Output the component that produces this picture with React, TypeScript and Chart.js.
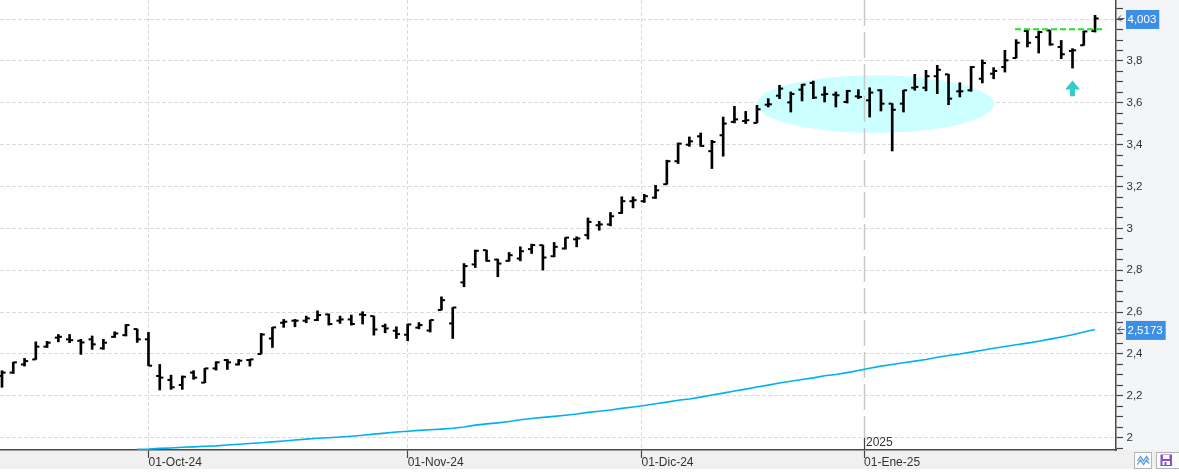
import { useEffect, useRef } from 'react';
import { Chart, registerables } from 'chart.js';
Chart.register(...registerables);

const FONT = 'Liberation Sans';

// OHLC per trading session (index 0 = first visible bar)
const OPEN = [
  2.295, 2.311, 2.350, 2.374, 2.435, 2.478, 2.470, 2.463, 2.470, 2.427,
  2.482, 2.490, 2.519, 2.470, 2.295, 2.276, 2.252, 2.311, 2.263, 2.331,
  2.371, 2.350, 2.371, 2.400, 2.474, 2.549, 2.559, 2.559, 2.562, 2.589,
  2.559, 2.565, 2.589, 2.581, 2.533, 2.511, 2.492, 2.526, 2.512, 2.610,
  2.546, 2.742, 2.828, 2.896, 2.851, 2.845, 2.856, 2.901, 2.920, 2.867,
  2.904, 2.948, 2.968, 3.015, 3.019, 3.074, 3.130, 3.130, 3.147, 3.211,
  3.321, 3.400, 3.440, 3.369, 3.445, 3.509, 3.513, 3.504, 3.591, 3.634,
  3.602, 3.663, 3.695, 3.639, 3.639, 3.604, 3.631, 3.612, 3.660, 3.596,
  3.596, 3.672, 3.672, 3.727, 3.736, 3.655, 3.660, 3.715, 3.739, 3.771,
  3.814, 3.943, 3.914, 3.946, 3.867, 3.848, 3.875, 3.943,
];
const HIGH = [
  2.320, 2.360, 2.379, 2.458, 2.460, 2.493, 2.493, 2.470, 2.486, 2.470,
  2.506, 2.541, 2.519, 2.503, 2.350, 2.299, 2.295, 2.320, 2.331, 2.363,
  2.374, 2.374, 2.374, 2.498, 2.527, 2.565, 2.565, 2.581, 2.606, 2.591,
  2.581, 2.586, 2.602, 2.581, 2.543, 2.530, 2.543, 2.550, 2.562, 2.673,
  2.622, 2.832, 2.896, 2.896, 2.853, 2.885, 2.912, 2.925, 2.920, 2.933,
  2.956, 2.960, 3.050, 3.034, 3.076, 3.151, 3.151, 3.163, 3.206, 3.326,
  3.408, 3.437, 3.456, 3.421, 3.532, 3.583, 3.559, 3.588, 3.620, 3.684,
  3.652, 3.688, 3.704, 3.677, 3.652, 3.660, 3.663, 3.672, 3.663, 3.596,
  3.660, 3.736, 3.755, 3.779, 3.736, 3.696, 3.774, 3.805, 3.768, 3.851,
  3.902, 3.946, 3.943, 3.946, 3.898, 3.859, 3.943, 4.018,
];
const LOW = [
  2.241, 2.307, 2.342, 2.374, 2.431, 2.458, 2.454, 2.398, 2.422, 2.422,
  2.479, 2.486, 2.455, 2.344, 2.228, 2.231, 2.231, 2.279, 2.263, 2.323,
  2.326, 2.347, 2.342, 2.400, 2.431, 2.527, 2.530, 2.549, 2.559, 2.538,
  2.546, 2.538, 2.543, 2.490, 2.501, 2.474, 2.463, 2.520, 2.505, 2.610,
  2.474, 2.721, 2.813, 2.843, 2.769, 2.843, 2.845, 2.880, 2.801, 2.864,
  2.901, 2.912, 2.949, 2.991, 3.012, 3.071, 3.098, 3.124, 3.143, 3.211,
  3.310, 3.392, 3.392, 3.286, 3.345, 3.504, 3.501, 3.504, 3.580, 3.620,
  3.556, 3.609, 3.620, 3.604, 3.580, 3.599, 3.620, 3.532, 3.561, 3.370,
  3.556, 3.660, 3.657, 3.644, 3.591, 3.628, 3.655, 3.695, 3.715, 3.747,
  3.814, 3.867, 3.838, 3.875, 3.811, 3.766, 3.875, 3.938,
];
const CLOSE = [
  2.311, 2.360, 2.366, 2.435, 2.454, 2.482, 2.466, 2.455, 2.446, 2.454,
  2.498, 2.538, 2.470, 2.344, 2.287, 2.241, 2.291, 2.287, 2.331, 2.360,
  2.360, 2.368, 2.374, 2.493, 2.527, 2.554, 2.559, 2.570, 2.586, 2.543,
  2.565, 2.543, 2.586, 2.517, 2.522, 2.495, 2.541, 2.538, 2.562, 2.657,
  2.622, 2.820, 2.893, 2.845, 2.832, 2.872, 2.891, 2.920, 2.861, 2.912,
  2.956, 2.952, 3.031, 3.019, 3.058, 3.130, 3.135, 3.154, 3.182, 3.321,
  3.405, 3.416, 3.394, 3.413, 3.501, 3.521, 3.517, 3.569, 3.593, 3.668,
  3.642, 3.687, 3.625, 3.642, 3.636, 3.657, 3.628, 3.649, 3.596, 3.567,
  3.660, 3.676, 3.727, 3.758, 3.620, 3.655, 3.771, 3.790, 3.752, 3.803,
  3.887, 3.887, 3.938, 3.879, 3.832, 3.851, 3.941, 4.003,
];

// long moving average, visible from bar MA_START on
const MA_START = 12;
const MA = [
  1.9446, 1.9455, 1.949, 1.951, 1.954, 1.956, 1.959, 1.961, 1.965, 1.969,
  1.972, 1.976, 1.980, 1.984, 1.989, 1.993, 1.997, 2.000, 2.003, 2.007,
  2.012, 2.017, 2.022, 2.027, 2.031, 2.035, 2.038, 2.041, 2.045, 2.051,
  2.060, 2.066, 2.071, 2.077, 2.086, 2.092, 2.097, 2.102, 2.107, 2.113,
  2.121, 2.126, 2.132, 2.140, 2.147, 2.154, 2.162, 2.170, 2.179, 2.185,
  2.194, 2.204, 2.213, 2.223, 2.232, 2.242, 2.251, 2.261, 2.270, 2.278,
  2.286, 2.296, 2.302, 2.311, 2.321, 2.332, 2.342, 2.350, 2.358, 2.366,
  2.374, 2.384, 2.393, 2.400, 2.409, 2.418, 2.427, 2.436, 2.444, 2.452,
  2.461, 2.471, 2.481, 2.492, 2.505, 2.5173,
];

// axes
const X_MIN = -0.1775;
const X_MAX = 98.86;
const X_TICK_POS = [13, 36, 56.75, 76.5];
const X_TICK_LABELS = ['01-Oct-24', '01-Nov-24', '01-Dic-24', '01-Ene-25'];
const YEAR_TICK = 76.5;
const YEAR_LABEL = '2025';

const Y_MIN = 1.9412;
const Y_MAX = 4.0913;
const Y_LABEL_VALUES = [2, 2.2, 2.4, 2.6, 2.8, 3, 3.2, 3.4, 3.6, 3.8, 4];
const Y_LABELS = ['2', '2,2', '2,4', '2,6', '2,8', '3', '3,2', '3,4', '3,6', '3,8', '4'];
const Y_MINOR_STEP = 0.05;

// annotations
const RESISTANCE = 3.951;
const RES_FROM = 89.9;
const RES_TO = 97.9;
const ELLIPSE_X = 77.5;
const ELLIPSE_Y = 3.594;
const ELLIPSE_RX = 10.53;
const ELLIPSE_RY = 0.1375;
const ARROW_X = 95;
const ARROW_TOP = 3.707;
const ARROW_BOTTOM = 3.631;

const yTickValues: number[] = [];
for (let k = Math.ceil(Y_MIN / Y_MINOR_STEP); k * Y_MINOR_STEP <= Y_MAX; k++) {
  yTickValues.push(Math.round(k * Y_MINOR_STEP * 100) / 100);
}
const yLabelFor = (v: number) => {
  const i = Y_LABEL_VALUES.findIndex((m) => Math.abs(m - v) < 1e-6);
  return i >= 0 ? Y_LABELS[i] : '';
};
const isMajorY = (v: number) => Y_LABEL_VALUES.some((m) => Math.abs(m - v) < 1e-6);

const decor = {
  id: 'decor',
  beforeDraw(chart: any) {
    const { ctx, chartArea: a, width, height } = chart;
    ctx.save();
    ctx.fillStyle = '#ffffff';
    ctx.fillRect(0, 0, width, height);
    ctx.fillStyle = '#f4f5f7';
    ctx.fillRect(a.right, 0, width - a.right, a.bottom);
    ctx.fillStyle = '#f0f0f0';
    ctx.fillRect(0, a.bottom, width, height - a.bottom - 3);
    ctx.restore();
  },
  beforeDatasetsDraw(chart: any) {
    const { ctx, chartArea: a } = chart;
    const xs = chart.scales.x;
    const ys = chart.scales.y;
    ctx.save();
    ctx.beginPath();
    ctx.rect(a.left, a.top, a.right - a.left, a.bottom - a.top);
    ctx.clip();
    const cx = xs.getPixelForValue(ELLIPSE_X);
    const cy = ys.getPixelForValue(ELLIPSE_Y);
    const rx = xs.getPixelForValue(ELLIPSE_X + ELLIPSE_RX) - cx;
    const ry = cy - ys.getPixelForValue(ELLIPSE_Y + ELLIPSE_RY);
    ctx.fillStyle = '#ccffff';
    ctx.beginPath();
    ctx.ellipse(cx, cy, rx, ry, 0, 0, Math.PI * 2);
    ctx.fill();
    // year separator
    const yx = Math.round(xs.getPixelForValue(YEAR_TICK)) + 0.5;
    ctx.strokeStyle = '#c8c8c8';
    ctx.lineWidth = 1.5;
    ctx.setLineDash([26, 6]);
    ctx.beginPath();
    ctx.moveTo(yx, a.top);
    ctx.lineTo(yx, a.bottom);
    ctx.stroke();
    ctx.restore();
  },
  afterDatasetsDraw(chart: any) {
    const { ctx, chartArea: a } = chart;
    const xs = chart.scales.x;
    const ys = chart.scales.y;
    ctx.save();
    ctx.beginPath();
    ctx.rect(a.left, a.top, a.right - a.left, a.bottom - a.top);
    ctx.clip();
    ctx.fillStyle = '#000';
    for (let i = 0; i < OPEN.length; i++) {
      const px = xs.getPixelForValue(i);
      const yo = ys.getPixelForValue(OPEN[i]);
      const yc = ys.getPixelForValue(CLOSE[i]);
      ctx.fillRect(px - 3.6, yo - 1, 3.6, 2);
      ctx.fillRect(px, yc - 1, 3.6, 2);
    }
    // resistance line
    const ry = ys.getPixelForValue(RESISTANCE);
    ctx.strokeStyle = '#1ee61e';
    ctx.lineWidth = 2;
    ctx.setLineDash([6, 3]);
    ctx.beginPath();
    ctx.moveTo(xs.getPixelForValue(RES_FROM), ry);
    ctx.lineTo(xs.getPixelForValue(RES_TO), ry);
    ctx.stroke();
    ctx.setLineDash([]);
    // arrow
    const ax = xs.getPixelForValue(ARROW_X);
    const at = ys.getPixelForValue(ARROW_TOP);
    const ab = ys.getPixelForValue(ARROW_BOTTOM);
    ctx.fillStyle = '#33cccc';
    ctx.beginPath();
    ctx.moveTo(ax, at);
    ctx.lineTo(ax + 7.5, at + 9);
    ctx.lineTo(ax + 2.5, at + 9);
    ctx.lineTo(ax + 2.5, ab);
    ctx.lineTo(ax - 2.5, ab);
    ctx.lineTo(ax - 2.5, at + 9);
    ctx.lineTo(ax - 7.5, at + 9);
    ctx.closePath();
    ctx.fill();
    ctx.restore();
  },
  afterDraw(chart: any) {
    const { ctx, chartArea: a, width, height } = chart;
    const xs = chart.scales.x;
    const ys = chart.scales.y;
    ctx.save();
    // year tick + label
    const yx = Math.round(xs.getPixelForValue(YEAR_TICK)) + 0.5;
    ctx.strokeStyle = '#444';
    ctx.lineWidth = 1.2;
    ctx.beginPath();
    ctx.moveTo(yx, a.bottom - 12);
    ctx.lineTo(yx, a.bottom);
    ctx.stroke();
    ctx.fillStyle = '#333';
    ctx.font = `12px "${FONT}"`;
    ctx.textBaseline = 'alphabetic';
    ctx.textAlign = 'left';
    ctx.fillText(YEAR_LABEL, yx + 1.5, a.bottom - 4);

    // price tags
    const tag = (value: number, text: string) => {
      const yy = ys.getPixelForValue(value) + 1;
      ctx.font = `11.5px "${FONT}"`;
      const w = ctx.measureText(text).width + 4.5;
      ctx.fillStyle = '#3d8fe6';
      ctx.fillRect(a.right + 10, yy - 9.5, w, 19);
      ctx.fillStyle = '#ffffff';
      ctx.textBaseline = 'middle';
      ctx.fillText(text, a.right + 11.5, yy);
      ctx.strokeStyle = '#555';
      ctx.lineWidth = 1;
      ctx.beginPath();
      ctx.moveTo(a.right + 2, yy - 1);
      ctx.lineTo(a.right + 8.5, yy - 1);
      ctx.moveTo(a.right + 5, yy - 4);
      ctx.lineTo(a.right + 2, yy - 1);
      ctx.lineTo(a.right + 5, yy + 2);
      ctx.stroke();
    };
    const lastClose = CLOSE[CLOSE.length - 1];
    const lastMa = MA[MA.length - 1];
    tag(lastClose, lastClose.toFixed(3).replace('.', ','));
    tag(lastMa, lastMa.toFixed(4).replace('.', ','));

    // bottom-right icons
    ctx.lineWidth = 1;
    ctx.fillStyle = '#fbfbfb';
    ctx.strokeStyle = '#b4b4b4';
    ctx.fillRect(1134.5, 452.5, 17, 16);
    ctx.strokeRect(1134.5, 452.5, 17, 16);
    ctx.fillRect(1156.5, 452.5, 23, 16);
    ctx.strokeRect(1156.5, 452.5, 23, 16);
    ctx.strokeStyle = '#5b9fe0';
    ctx.lineWidth = 1.3;
    for (const off of [0, 3.5]) {
      ctx.beginPath();
      ctx.moveTo(1137.5, 461 + off);
      ctx.lineTo(1140.5, 456.5 + off);
      ctx.lineTo(1143.5, 461 + off);
      ctx.lineTo(1146.5, 456.5 + off);
      ctx.lineTo(1149, 460 + off);
      ctx.stroke();
    }
    ctx.fillStyle = '#8a4fcf';
    ctx.fillRect(1160.5, 454.5, 11.5, 11.5);
    ctx.fillStyle = '#ffffff';
    ctx.fillRect(1163, 455, 6.5, 4);
    ctx.fillRect(1162.5, 461, 7.5, 4);
    ctx.fillStyle = '#8a4fcf';
    ctx.fillRect(1164.5, 462, 2, 3);
    ctx.fillStyle = '#ffffff';
    ctx.fillRect(0, height - 3, width, 3);
    ctx.restore();
  },
};

export default function App() {
  const ref = useRef<HTMLCanvasElement>(null);
  useEffect(() => {
    document.body.style.margin = '0';
    Chart.defaults.font.family = FONT;
    const chart = new Chart(ref.current as HTMLCanvasElement, {
      type: 'bar',
      data: {
        datasets: [
          {
            type: 'line',
            data: MA.map((v, k) => ({ x: MA_START + k, y: v })),
            borderColor: '#00b0f0',
            borderWidth: 1.6,
            pointRadius: 0,
            tension: 0,
            fill: false,
          } as any,
          {
            type: 'bar',
            data: HIGH.map((h, i) => ({ x: i, y: [LOW[i], h] })),
            backgroundColor: '#000000',
            borderWidth: 0,
            barThickness: 2,
          } as any,
        ],
      },
      options: {
        animation: false,
        responsive: false,
        devicePixelRatio: 1,
        events: [],
        layout: { padding: 0 },
        plugins: {
          legend: { display: false },
          tooltip: { enabled: false },
        },
        scales: {
          x: {
            type: 'linear',
            min: X_MIN,
            max: X_MAX,
            offset: false,
            afterBuildTicks: (s: any) => {
              s.ticks = X_TICK_POS.map((v) => ({ value: v }));
            },
            afterFit: (s: any) => {
              s.height = 22;
              s.paddingLeft = 0;
              s.paddingRight = 0;
            },
            ticks: {
              autoSkip: false,
              maxRotation: 0,
              minRotation: 0,
              align: 'start',
              padding: -3,
              color: '#333',
              font: { size: 12, family: FONT },
              callback: (v: any) => {
                const i = X_TICK_POS.indexOf(Number(v));
                return i >= 0 ? X_TICK_LABELS[i] : '';
              },
            },
            grid: {
              offset: false,
              color: (c: any) => (c.tick && c.tick.value === YEAR_TICK ? 'transparent' : '#dcdcdc'),
              lineWidth: 1,
              tickLength: 8,
              tickColor: '#444',
              tickWidth: 1.2,
            },
            border: { display: true, color: '#4a4a4a', width: 1.5, dash: [4, 2] },
          },
          y: {
            type: 'linear',
            position: 'right',
            min: Y_MIN,
            max: Y_MAX,
            afterBuildTicks: (s: any) => {
              s.ticks = yTickValues.map((v) => ({ value: v }));
            },
            afterFit: (s: any) => {
              s.width = 63;
              s.paddingTop = 0;
              s.paddingBottom = 0;
            },
            ticks: {
              autoSkip: false,
              padding: 3.5,
              color: '#333',
              font: { size: 11.5, family: FONT },
              callback: (v: any) => yLabelFor(Number(v)),
            },
            grid: {
              color: (c: any) => (c.tick && isMajorY(c.tick.value) ? '#dcdcdc' : 'transparent'),
              lineWidth: 1,
              tickLength: 7,
              tickColor: '#444',
              tickWidth: 1.2,
            },
            border: { display: true, color: '#4a4a4a', width: 1.5, dash: [4, 2] },
          },
        },
      } as any,
      plugins: [decor],
    });
    return () => chart.destroy();
  }, []);
  return (
    <canvas
      ref={ref}
      width={1179}
      height={472}
      style={{ display: 'block', width: 1179, height: 472 }}
    />
  );
}
